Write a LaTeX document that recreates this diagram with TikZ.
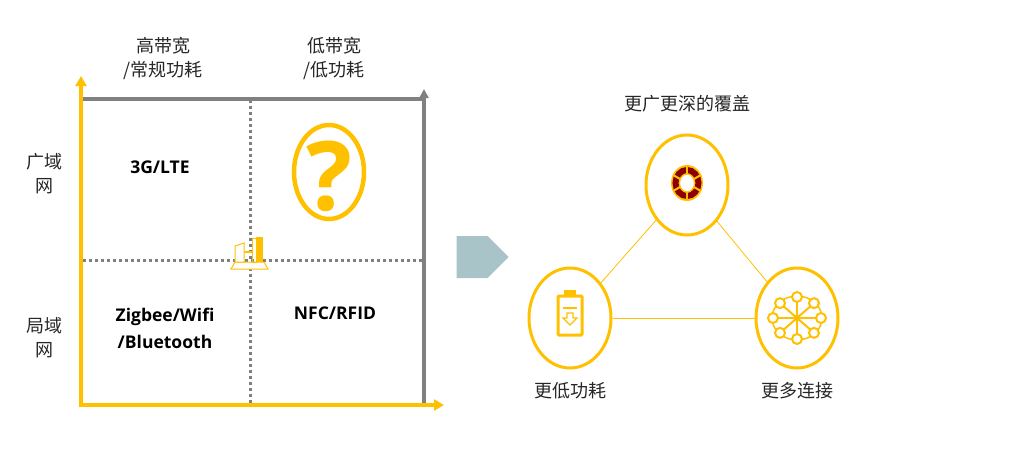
\documentclass[tikz,border=0pt]{standalone}
\usepackage{fontspec}
\setmainfont{Open Sans}
\newfontfamily\cjk{Noto Sans CJK SC}
\usetikzlibrary{arrows.meta,shapes.arrows,shapes.geometric}
\definecolor{ylw}{HTML}{FFC000}
\definecolor{gry}{HTML}{808080}
\definecolor{dred}{HTML}{8B0000}
\definecolor{garr}{HTML}{A9C4C8}
\begin{document}
\begin{tikzpicture}[x=1pt,y=-1pt,
  cj/.style={font=\cjk\fontsize{18}{24}\selectfont,align=center,text=black!85},
  lat/.style={font=\bfseries\fontsize{17.5}{27}\selectfont,align=center},
  circ/.style={draw=ylw,line width=3pt,ellipse,minimum width=82pt,minimum height=100pt},
  link/.style={draw=ylw,line width=0.8pt}]
\useasboundingbox (0,0) rectangle (1015,450);
% axes
\draw[gry,line width=3.5pt] (81,99) -- (424,99);
\draw[gry,line width=3.5pt,-{Triangle[length=9pt,width=9pt]}] (424,405) -- (424,89);
\draw[gry,line width=3pt,dash pattern=on 3pt off 3pt] (250,100) -- (250,405);
\draw[gry,line width=3pt,dash pattern=on 3pt off 3pt] (83,260) -- (422,260);
\draw[ylw,line width=3.8pt,-{Triangle[length=10pt,width=11pt]}] (81,407) -- (81,76);
\draw[ylw,line width=3.8pt,-{Triangle[length=10pt,width=11pt]}] (79,405) -- (444,405);
% labels
\node[cj] (h1) at (163,58) {高带宽\\/常规功耗};
\node[cj] (h2) at (334,58) {低带宽\\/低功耗};
\node[cj] (v1) at (45,174) {广域\\网};
\node[cj] (v2) at (45,338) {局域\\网};
\node[lat] (q1) at (160,167) {3G/LTE};
\node[lat] (q3) at (165,328) {Zigbee/Wifi\\/Bluetooth};
\node[lat] (q4) at (335,313) {NFC/RFID};
\node[draw=ylw,line width=4.5pt,ellipse,minimum width=70pt,minimum height=94pt] (qm) at (329,172) {};
\node[text=ylw,font=\bfseries\fontsize{96}{96}\selectfont,inner sep=0pt] (qq) at (329,176) {?};
% center icon
\begin{scope}[draw=ylw,line width=1pt,fill=ylw]
\draw[fill=white] (231,269) -- (268,269) -- (264,262) -- (235,262) -- cycle;
\draw[fill=white] (235,262) -- (235,246) -- (244,243) -- (244,262) -- cycle;
\fill (256,237) rectangle (263,262);
\draw (252,238) rectangle (256,262);
\draw[line width=2.5pt] (244,252) -- (253,252);
\end{scope}
% gray arrow
\node[single arrow,fill=garr,minimum height=52pt,minimum width=42pt,single arrow head extend=0pt,inner sep=0pt] (ga) at (472,257) {};
% right part
\node[cj] (t0) at (687,104) {更广更深的覆盖};
\node[circ] (c1) at (687,185) {};
\node[circ] (c2) at (570,318) {};
\node[circ] (c3) at (797,318) {};
\draw[link] (c1) -- (c2);
\draw[link] (c1) -- (c3);
\draw[link] (c2) -- (c3);
\node[cj] (l2) at (570,391) {更低功耗};
\node[cj] (l3) at (797,391) {更多连接};
% lifebuoy
\fill[ylw] (687,183) ellipse (16pt and 18pt);
\draw[dred,line width=6pt] (687,183) ellipse (11.5pt and 13pt);
\foreach \a in {30,90,...,330}{\draw[ylw,line width=2pt] (687,183) ++(\a:8) -- ++(\a:8);}
\fill[white] (687,183) ellipse (7.5pt and 9pt);
\draw[ylw,line width=1.2pt] (687,183) ellipse (7.5pt and 9pt);
% battery
\draw[ylw,line width=3pt,rounded corners=1pt] (558,296) rectangle (582,335);
\fill[ylw] (564,290) rectangle (576,296);
\draw[ylw,line width=1.2pt] (563,308) -- (577,308);
\draw[ylw,line width=1.2pt] (567,313) -- (573,313) -- (573,318) -- (577,318) -- (570,325) -- (563,318) -- (567,318) -- cycle;
% network
\draw[ylw,line width=1.5pt] (797,318) ellipse (25pt and 22pt);
\foreach \a in {0,45,...,315}{
  \draw[ylw,line width=2pt] (797,318) -- ++(\a:23 and 20);
  \draw[ylw,line width=2pt,fill=white] (797,318) ++(\a:24 and 21) circle (5);
}
\fill[ylw] (797,318) circle (3.5);
\end{tikzpicture}
\end{document}
